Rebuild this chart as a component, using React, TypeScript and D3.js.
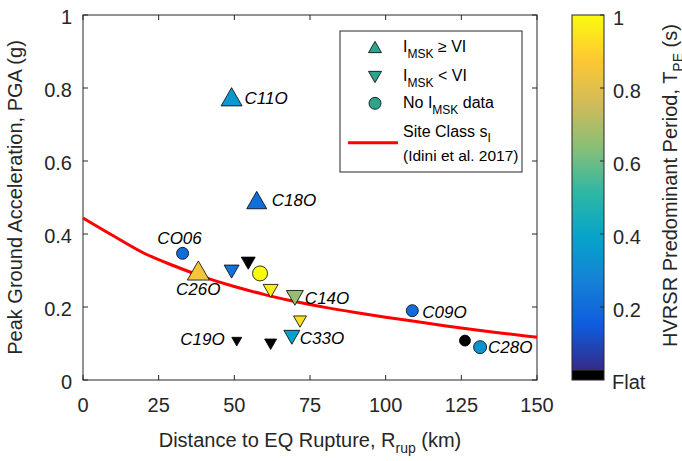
import React, { useEffect, useRef } from "react";
import * as d3 from "d3";

const W = 682;
const H = 461;

// axis ticks
const xTicks = [0, 25, 50, 75, 100, 125, 150];
const yTicks = [0, 0.2, 0.4, 0.6, 0.8, 1];
const cbTicks = [0.2, 0.4, 0.6, 0.8, 1];
const cbTickLabels = ["0.2", "0.4", "0.6", "0.8", "1"];

// station data
const station = ["C11O", "C18O", "CO06", "C26O", "", "", "", "", "C14O", "", "C33O", "", "C19O", "C09O", "", "C28O"];
const rrup = [49.1, 57.4, 32.9, 38.1, 49.1, 54.6, 58.5, 62.0, 70.0, 71.7, 69.0, 62.0, 50.8, 108.8, 126.2, 131.2];
const pga = [0.776, 0.493, 0.347, 0.300, 0.297, 0.320, 0.292, 0.244, 0.225, 0.160, 0.117, 0.098, 0.105, 0.190, 0.108, 0.090];
// predominant period (null = flat HVSR)
const tpe: (number | null)[] = [0.35, 0.21, 0.2, 0.85, 0.22, null, 1.0, 0.97, 0.66, 0.93, 0.38, null, null, 0.2, null, 0.33];
// MSK intensity class: "ge" = >= VI, "lt" = < VI, "none" = no data
const msk = ["ge", "ge", "none", "ge", "lt", "lt", "none", "lt", "lt", "lt", "lt", "lt", "lt", "none", "none", "none"];

// marker widths (px)
const markerSize = [21, 20, 12, 22, 15, 14, 15, 15, 17, 13, 16, 12, 10, 12, 11, 13];
// label placement relative to marker (px) and anchor
const labelDx = [13, 15, -3, 0, 0, 0, 0, 0, 10, 0, 8, 0, -12, 10, 0, 8];
const labelDy = [1, 0, -15, 18, 0, 0, 0, 0, 0, 0, 1, 0, -3, 1, 0, 0];
const labelAnchor = ["start", "start", "middle", "middle", "", "", "", "", "start", "", "start", "", "end", "start", "", "start"];

// Idini et al. 2017 curve, site class sI
const curveR = [0, 10, 20, 30, 40, 50, 60, 70, 80, 90, 100, 110, 120, 130, 140, 150];
const curvePGA = [0.444, 0.395, 0.348, 0.313, 0.282, 0.256, 0.234, 0.215, 0.199, 0.185, 0.172, 0.160, 0.148, 0.137, 0.127, 0.117];

const PARULA = ["#352a87", "#0f5cdd", "#1481d6", "#06a4ca", "#2eb7a4", "#87bf77", "#d1bb59", "#fec832", "#f9fb0e"];
const FLAT_MAX = 0.027;

const FONT = "'Liberation Sans', Arial, Helvetica, sans-serif";
const AX = "#262626";

export default function App() {
  const ref = useRef<SVGSVGElement>(null);

  useEffect(() => {
    const svg = d3.select(ref.current);
    svg.selectAll("*").remove();

    const L = 83, R = 537, T = 15, B = 380;
    const x = d3.scaleLinear().domain([0, 150]).range([L, R]);
    const y = d3.scaleLinear().domain([0, 1]).range([B, T]);

    const colorDomain = PARULA.map((_, i) => FLAT_MAX + (i / (PARULA.length - 1)) * (1 - FLAT_MAX));
    const color = d3.scaleLinear<string>().domain(colorDomain).range(PARULA).interpolate(d3.interpolateRgb).clamp(true);
    const fillOf = (v: number | null) => (v === null ? "#000000" : color(v));

    svg.append("rect").attr("width", W).attr("height", H).attr("fill", "#fff");

    // axes box
    svg.append("rect").attr("x", L).attr("y", T).attr("width", R - L).attr("height", B - T)
      .attr("fill", "#fff").attr("stroke", AX).attr("stroke-width", 1);

    const g = svg.append("g");
    const tl = 5;
    xTicks.forEach((t) => {
      g.append("line").attr("x1", x(t)).attr("x2", x(t)).attr("y1", B).attr("y2", B - tl).attr("stroke", AX);
      g.append("line").attr("x1", x(t)).attr("x2", x(t)).attr("y1", T).attr("y2", T + tl).attr("stroke", AX);
      g.append("text").attr("x", x(t)).attr("y", 412).attr("text-anchor", "middle")
        .attr("font-family", FONT).attr("font-size", 20).attr("fill", AX).text(String(t));
    });
    yTicks.forEach((t) => {
      g.append("line").attr("x1", L).attr("x2", L + tl).attr("y1", y(t)).attr("y2", y(t)).attr("stroke", AX);
      g.append("line").attr("x1", R).attr("x2", R - tl).attr("y1", y(t)).attr("y2", y(t)).attr("stroke", AX);
      g.append("text").attr("x", 72).attr("y", y(t) + 9).attr("text-anchor", "end")
        .attr("font-family", FONT).attr("font-size", 20).attr("fill", AX).text(String(t));
    });

    // axis titles
    const xt = svg.append("text").attr("x", (L + R) / 2).attr("y", 447).attr("text-anchor", "middle")
      .attr("font-family", FONT).attr("font-size", 20).attr("fill", AX);
    xt.append("tspan").text("Distance to EQ Rupture, R");
    xt.append("tspan").attr("font-size", 14).attr("dy", 6).text("rup");
    xt.append("tspan").attr("dy", -6).text(" (km)");

    svg.append("text").attr("transform", `translate(21.5,${(T + B) / 2}) rotate(-90)`).attr("text-anchor", "middle")
      .attr("font-family", FONT).attr("font-size", 20).attr("fill", AX).text("Peak Ground Acceleration, PGA (g)");

    // curve
    const line = d3.line<number>().x((_, i) => x(curveR[i])).y((d) => y(d)).curve(d3.curveMonotoneX);
    svg.append("path").attr("d", line(curvePGA) || "").attr("fill", "none").attr("stroke", "#ff0000").attr("stroke-width", 3);

    // markers
    const tri = (w: number, up: boolean) => {
      const h = w * 0.87;
      return up
        ? `M0,${-h / 2}L${w / 2},${h / 2}L${-w / 2},${h / 2}Z`
        : `M0,${h / 2}L${w / 2},${-h / 2}L${-w / 2},${-h / 2}Z`;
    };
    rrup.forEach((r, i) => {
      const cx = x(r), cy = y(pga[i]);
      const f = fillOf(tpe[i]);
      if (msk[i] === "none") {
        svg.append("circle").attr("cx", cx).attr("cy", cy).attr("r", markerSize[i] / 2)
          .attr("fill", f).attr("stroke", "#000").attr("stroke-width", 0.8);
      } else {
        svg.append("path").attr("transform", `translate(${cx},${cy})`).attr("d", tri(markerSize[i], msk[i] === "ge"))
          .attr("fill", f).attr("stroke", "#000").attr("stroke-width", 0.8);
      }
      if (station[i]) {
        svg.append("text").attr("x", cx + labelDx[i]).attr("y", cy + labelDy[i] + 6)
          .attr("text-anchor", labelAnchor[i]).attr("font-family", FONT).attr("font-style", "italic")
          .attr("font-size", 17).attr("fill", "#000").text(station[i]);
      }
    });

    // legend
    const lg = svg.append("g");
    lg.append("rect").attr("x", 340).attr("y", 31).attr("width", 182).attr("height", 141)
      .attr("fill", "#fff").attr("stroke", AX).attr("stroke-width", 1);
    const legColor = "#2ca58d";
    lg.append("path").attr("transform", "translate(375,47)").attr("d", tri(13, true)).attr("fill", legColor).attr("stroke", "#000").attr("stroke-width", 0.8);
    lg.append("path").attr("transform", "translate(375,77)").attr("d", tri(13, false)).attr("fill", legColor).attr("stroke", "#000").attr("stroke-width", 0.8);
    lg.append("circle").attr("cx", 375).attr("cy", 103.3).attr("r", 6).attr("fill", legColor).attr("stroke", "#000").attr("stroke-width", 0.8);
    lg.append("line").attr("x1", 348).attr("x2", 398).attr("y1", 142.7).attr("y2", 142.7).attr("stroke", "#ff0000").attr("stroke-width", 3);

    const legText = (yb: number) => lg.append("text").attr("x", 403).attr("y", yb).attr("font-family", FONT).attr("font-size", 16).attr("fill", "#000");
    const t1 = legText(51.7);
    t1.append("tspan").text("I");
    t1.append("tspan").attr("font-size", 12).attr("dy", 6).text("MSK");
    t1.append("tspan").attr("dy", -6).text(" \u2265 VI");
    const t2 = legText(80.7);
    t2.append("tspan").text("I");
    t2.append("tspan").attr("font-size", 12).attr("dy", 6).text("MSK");
    t2.append("tspan").attr("dy", -6).text(" < VI");
    const t3 = legText(108.3);
    t3.append("tspan").text("No I");
    t3.append("tspan").attr("font-size", 12).attr("dy", 6).text("MSK");
    t3.append("tspan").attr("dy", -6).text(" data");
    const t4 = legText(136.7);
    t4.append("tspan").text("Site Class s");
    t4.append("tspan").attr("font-size", 12).attr("dy", 5).text("I");
    legText(161).text("(Idini et al. 2017)").attr("font-size", 15.5);

    // colorbar
    const cL = 572, cR = 604;
    const cy = d3.scaleLinear().domain([0, 1]).range([B, T]);
    const defs = svg.append("defs");
    const grad = defs.append("linearGradient").attr("id", "parula").attr("x1", 0).attr("y1", 1).attr("x2", 0).attr("y2", 0);
    PARULA.forEach((c, i) => grad.append("stop").attr("offset", i / (PARULA.length - 1)).attr("stop-color", c));
    svg.append("rect").attr("x", cL).attr("y", cy(1)).attr("width", cR - cL).attr("height", cy(FLAT_MAX) - cy(1)).attr("fill", "url(#parula)");
    svg.append("rect").attr("x", cL).attr("y", cy(FLAT_MAX)).attr("width", cR - cL).attr("height", cy(0) - cy(FLAT_MAX)).attr("fill", "#000");
    svg.append("rect").attr("x", cL).attr("y", T).attr("width", cR - cL).attr("height", B - T).attr("fill", "none").attr("stroke", AX).attr("stroke-width", 1);
    cbTicks.forEach((t, i) => {
      svg.append("line").attr("x1", cR).attr("x2", cR - 4).attr("y1", cy(t)).attr("y2", cy(t)).attr("stroke", AX);
      svg.append("text").attr("x", 613).attr("y", cy(t) + 10).attr("font-family", FONT).attr("font-size", 20).attr("fill", AX).text(cbTickLabels[i]);
    });
    svg.append("text").attr("x", 612).attr("y", 389).attr("font-family", FONT).attr("font-size", 20).attr("fill", AX).text("Flat");

    const ct = svg.append("text").attr("transform", `translate(677,${(T + B) / 2 - 12}) rotate(-90)`).attr("text-anchor", "middle")
      .attr("font-family", FONT).attr("font-size", 20).attr("fill", AX);
    ct.append("tspan").text("HVRSR Predominant Period, T");
    ct.append("tspan").attr("font-size", 14).attr("dy", 6).text("PE");
    ct.append("tspan").attr("dy", -6).text(" (s)");
  }, []);

  return <svg ref={ref} width={W} height={H} style={{ position: "absolute", left: 0, top: 0 }} />;
}
